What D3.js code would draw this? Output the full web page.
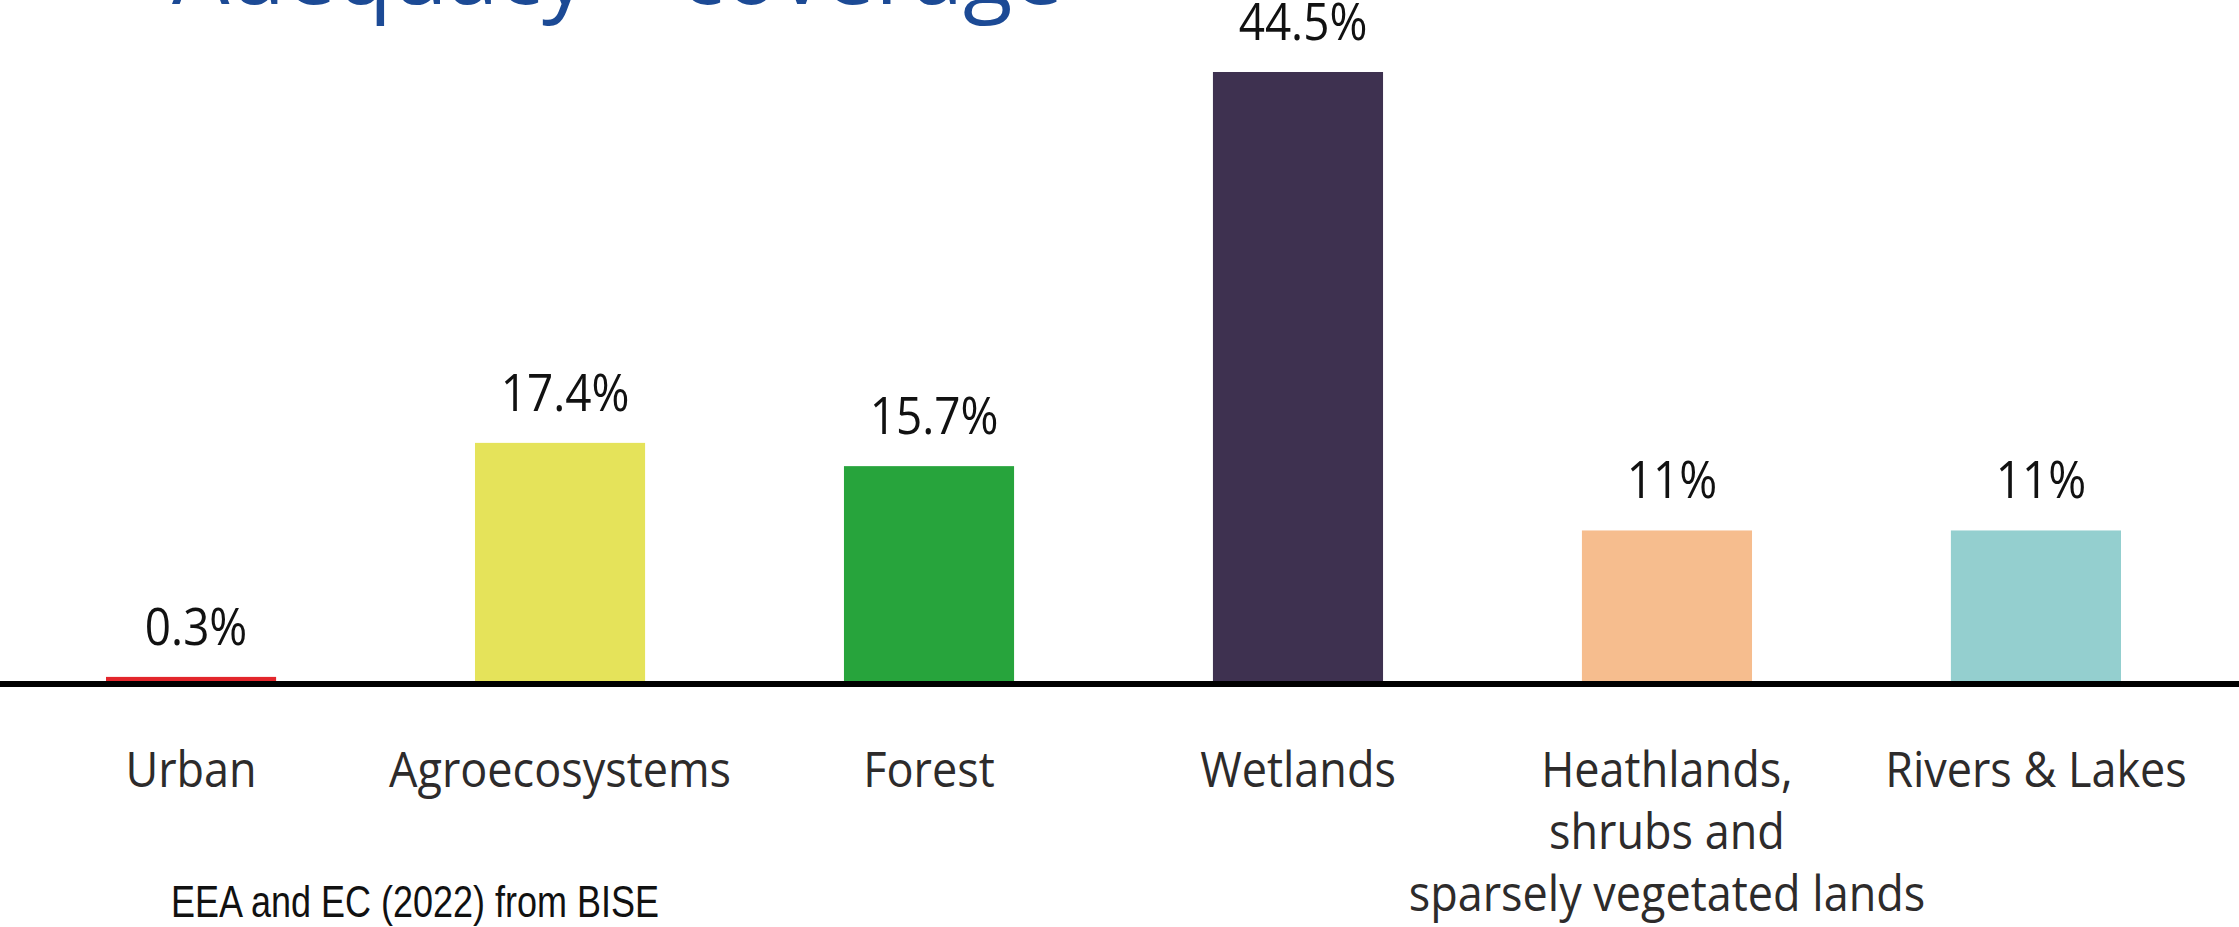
<!DOCTYPE html>
<html>
<head>
<meta charset="utf-8">
<script src="https://cdn.jsdelivr.net/npm/d3@7"></script>
<style>
  html, body { margin: 0; padding: 0; background: #ffffff; }
  svg { display: block; }
</style>
</head>
<body>
<svg id="chart"></svg>
<script>
// Share of each ecosystem type covered (percent)
const categories = ["Urban", "Agroecosystems", "Forest", "Wetlands", "Heathlands,\nshrubs and\nsparsely vegetated lands", "Rivers & Lakes"];
const values = [0.3, 17.4, 15.7, 44.5, 11, 11];
const valueLabels = ["0.3%", "17.4%", "15.7%", "44.5%", "11%", "11%"];
const colors = ["#e3262c", "#e5e35a", "#27a43c", "#3e3150", "#f6bd8e", "#94cfcf"];
const titleText = "Adequacy \u2013 coverage";
const sourceText = "EEA and EC (2022) from BISE";

const width = 2239, height = 927;
const baseY = 681;
const narrow = 0.9; // horizontal squeeze for a condensed look

const svg = d3.select("#chart").attr("width", width).attr("height", height);

const x = d3.scaleBand()
  .domain(categories)
  .range([0, 2227])
  .paddingInner(0.539)
  .paddingOuter(0.2873);

const y = d3.scaleLinear()
  .domain([0, d3.max(values)])
  .range([baseY, 72]);

// Title (runs off the top edge)
svg.append("text")
  .attr("x", 172)
  .attr("y", 4)
  .attr("font-family", "'Open Sans', sans-serif")
  .attr("font-size", 91)
  .attr("fill", "#1c4a95")
  .text(titleText);

// Bars
svg.append("g").selectAll("rect")
  .data(values)
  .join("rect")
  .attr("x", (d, i) => x(categories[i]))
  .attr("width", x.bandwidth())
  .attr("y", d => y(d))
  .attr("height", d => baseY - y(d))
  .attr("fill", (d, i) => colors[i]);

// Value labels above bars
svg.append("g").selectAll("text")
  .data(values)
  .join("text")
  .attr("transform", (d, i) =>
    `translate(${x(categories[i]) + x.bandwidth() / 2 + 5},${y(d) - 32}) scale(${narrow},1)`)
  .attr("text-anchor", "middle")
  .attr("font-family", "'Open Sans', sans-serif")
  .attr("font-size", 51)
  .attr("fill", "#111111")
  .text((d, i) => valueLabels[i]);

// Baseline across the full width
svg.append("line")
  .attr("x1", 0)
  .attr("x2", width)
  .attr("y1", baseY + 3)
  .attr("y2", baseY + 3)
  .attr("stroke", "#000000")
  .attr("stroke-width", 6);

// Category labels via the band axis, split into lines
const axis = svg.append("g")
  .attr("transform", `translate(0,${baseY})`)
  .call(d3.axisBottom(x).tickSize(0).tickSizeOuter(0));
axis.select(".domain").remove();
axis.selectAll(".tick text").each(function(d) {
  const t = d3.select(this);
  t.text(null)
    .attr("y", 0)
    .attr("dy", null)
    .attr("transform", `scale(${narrow},1)`)
    .attr("font-family", "'Open Sans', sans-serif")
    .attr("font-size", 50)
    .attr("fill", "#2d2b2b");
  d.split("\n").forEach((line, i) => {
    t.append("tspan")
      .attr("x", 0)
      .attr("y", 106 + i * 62)
      .text(line);
  });
});

// Source note
svg.append("text")
  .attr("transform", "translate(171,917) scale(0.8,1)")
  .attr("font-family", "'Liberation Sans', Arial, sans-serif")
  .attr("font-size", 45)
  .attr("fill", "#111111")
  .text(sourceText);
</script>
</body>
</html>
